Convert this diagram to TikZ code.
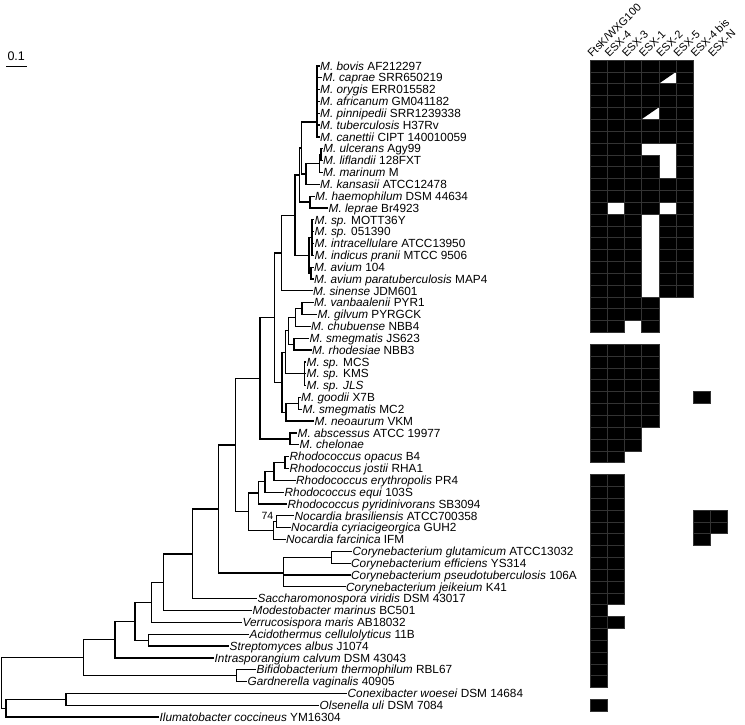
\documentclass[tikz,border=0pt]{standalone}
\usepackage{fontspec}
\setmainfont{Liberation Sans}
\newcommand\leafnode[4]{\coordinate (#1) at (#2,{65.9+(#3-1)*11.84}); \node[lab] (#1-t) at ([xshift=1pt,yshift=-4.2pt]#1) {#4};}
\newcommand\branches[2]{\foreach \ch in {#2} {\draw[br] (#1) |- (\ch);}}
\newcommand\cellrow[2]{\foreach \cc in {#2} {\path[cellst] ({590+(\cc-1)*17.2},{60+(#1-1)*11.84}) rectangle ++(17.2,11.84);}}
\newcommand\halfcell[2]{\fill[black] ({590+(#1-1)*17.2},{60+(#2-1)*11.84}) -- ++(17.2,0) -- ++(-17.2,11.84) -- cycle;
  \draw[gridl] ({590+(#1-1)*17.2},{60+(#2)*11.84}) -- ++(0,-11.84) -- ++(17.2,0);}
\begin{document}
\begin{tikzpicture}[x=1pt,y=-1pt,
  br/.style={line width=1.25pt, line cap=rect},
  lab/.style={anchor=base west, inner sep=0pt, font=\fontsize{11.8}{12}\selectfont},
  hdr/.style={anchor=base west, inner sep=0pt, rotate=45, font=\fontsize{11}{12}\selectfont},
  cellst/.style={fill=black, draw=gray!40!black, line width=0.4pt},
  gridl/.style={draw=gray!40!black, line width=0.4pt}]
\useasboundingbox (0,0) rectangle (745,724);
\fill[white] (0,0) rectangle (745,724);
% scale bar
\coordinate (sbL) at (6,66.7); \coordinate (sbR) at (27,66.7);
\draw[line width=1.2pt] (sbL) -- (sbR);
\node[anchor=base, inner sep=0pt, font=\fontsize{12.5}{13}\selectfont] (sbt) at (16.2,60) {0.1};
% leaves
\leafnode{bov}{319}{1}{\textit{M. bovis} AF212297}
\leafnode{cap}{321.5}{2}{\textit{M. caprae} SRR650219}
\leafnode{ory}{319}{3}{\textit{M. orygis} ERR015582}
\leafnode{afr}{319}{4}{\textit{M. africanum} GM041182}
\leafnode{pin}{319}{5}{\textit{M. pinnipedii} SRR1239338}
\leafnode{tub}{319}{6}{\textit{M. tuberculosis} H37Rv}
\leafnode{can}{319}{7}{\textit{M. canettii} CIPT 140010059}
\leafnode{ulc}{322}{8}{\textit{M. ulcerans} Agy99}
\leafnode{lif}{322}{9}{\textit{M. liflandii} 128FXT}
\leafnode{mar}{322}{10}{\textit{M. marinum} M}
\leafnode{kan}{319}{11}{\textit{M. kansasii} ATCC12478}
\leafnode{hae}{314}{12}{\textit{M. haemophilum} DSM 44634}
\leafnode{lep}{327.5}{13}{\textit{M. leprae} Br4923}
\leafnode{mot}{313.5}{14}{\textit{M. sp.} MOTT36Y}
\leafnode{sfz}{313.5}{15}{\textit{M. sp.} 051390}
\leafnode{inc}{313.5}{16}{\textit{M. intracellulare} ATCC13950}
\leafnode{ind}{313.5}{17}{\textit{M. indicus pranii} MTCC 9506}
\leafnode{avo}{313}{18}{\textit{M. avium} 104}
\leafnode{avp}{313}{19}{\textit{M. avium paratuberculosis} MAP4}
\leafnode{sin}{312}{20}{\textit{M. sinense} JDM601}
\leafnode{van}{313}{21}{\textit{M. vanbaalenii} PYR1}
\leafnode{gil}{316.5}{22}{\textit{M. gilvum} PYRGCK}
\leafnode{chu}{310}{23}{\textit{M. chubuense} NBB4}
\leafnode{jsx}{308.5}{24}{\textit{M. smegmatis} JS623}
\leafnode{rho}{311}{25}{\textit{M. rhodesiae} NBB3}
\leafnode{mcs}{305.5}{26}{\textit{M. sp.} MCS}
\leafnode{kms}{305.5}{27}{\textit{M. sp.} KMS}
\leafnode{jls}{305.5}{28}{\textit{M. sp. JLS}}
\leafnode{goo}{300}{29}{\textit{M. goodii} X7B}
\leafnode{mct}{301.5}{30}{\textit{M. smegmatis} MC2}
\leafnode{neo}{313.5}{31}{\textit{M. neoaurum} VKM}
\leafnode{abs}{296.5}{32}{\textit{M. abscessus} ATCC 19977}
\leafnode{che}{298.5}{33}{\textit{M. chelonae}}
\leafnode{opa}{288.5}{34}{\textit{Rhodococcus opacus} B4}
\leafnode{jos}{288.5}{35}{\textit{Rhodococcus jostii} RHA1}
\leafnode{ery}{295}{36}{\textit{Rhodococcus erythropolis} PR4}
\leafnode{equ}{283.5}{37}{\textit{Rhodococcus equi} 103S}
\leafnode{pyr}{286.5}{38}{\textit{Rhodococcus pyridinivorans} SB3094}
\leafnode{bra}{293.5}{39}{\textit{Nocardia brasiliensis} ATCC700358}
\leafnode{cyr}{290}{40}{\textit{Nocardia cyriacigeorgica} GUH2}
\leafnode{far}{285}{41}{\textit{Nocardia farcinica} IFM}
\leafnode{glu}{351.5}{42}{\textit{Corynebacterium glutamicum} ATCC13032}
\leafnode{eff}{350}{43}{\textit{Corynebacterium efficiens} YS314}
\leafnode{pse}{350}{44}{\textit{Corynebacterium pseudotuberculosis} 106A}
\leafnode{jei}{345}{45}{\textit{Corynebacterium jeikeium} K41}
\leafnode{sac}{256.5}{46}{\textit{Saccharomonospora viridis} DSM 43017}
\leafnode{mod}{251.5}{47}{\textit{Modestobacter marinus} BC501}
\leafnode{ver}{241.5}{48}{\textit{Verrucosispora maris} AB18032}
\leafnode{aci}{248.5}{49}{\textit{Acidothermus cellulolyticus} 11B}
\leafnode{str}{228.5}{50}{\textit{Streptomyces albus} J1074}
\leafnode{itr}{213.5}{51}{\textit{Intrasporangium calvum} DSM 43043}
\leafnode{bif}{255.5}{52}{\textit{Bifidobacterium thermophilum} RBL67}
\leafnode{gar}{246.5}{53}{\textit{Gardnerella vaginalis} 40905}
\leafnode{con}{346.5}{54}{\textit{Conexibacter woesei} DSM 14684}
\leafnode{ols}{318.5}{55}{\textit{Olsenella uli} DSM 7084}
\leafnode{ilu}{158.5}{56}{\textit{Ilumatobacter coccineus} YM16304}
% internal nodes
\coordinate (mtbc) at (317,122);
\coordinate (ul) at (321,154.7);
\coordinate (ulcn) at (319.5,163.6);
\coordinate (nA) at (306,174);
\coordinate (nB) at (301.7,148);
\coordinate (hl) at (310,202);
\coordinate (nU) at (299.3,175);
\coordinate (gone) at (312,237.6);
\coordinate (av) at (311,273.1);
\coordinate (mac) at (309,255.3);
\coordinate (nT) at (295,215.2);
\coordinate (nS) at (281.7,253);
\coordinate (vg) at (302,308.6);
\coordinate (vgc) at (295.3,317.5);
\coordinate (jr) at (294,344.2);
\coordinate (rg) at (288.7,330.8);
\coordinate (spn) at (304.5,373.7);
\coordinate (qone) at (285.3,352.3);
\coordinate (gm) at (298.7,403.3);
\coordinate (qtwo) at (286,412.2);
\coordinate (nP) at (282,382.3);
\coordinate (MA) at (274.7,317.7);
\coordinate (ac) at (290,438.9);
\coordinate (MY) at (260,378.3);
\coordinate (Rone) at (285,462.5);
\coordinate (Rtwo) at (274,471.4);
\coordinate (Rthr) at (265,481.8);
\coordinate (Rfou) at (258.3,492.9);
\coordinate (Nb) at (276.7,521.7);
\coordinate (Nn) at (273.3,530.6);
\coordinate (Rfiv) at (248.3,511.8);
\coordinate (RN) at (235.5,445);
\coordinate (ge) at (331.7,557.3);
\coordinate (cor) at (283.3,573);
\coordinate (nK) at (218.3,509);
\coordinate (nL) at (192.3,553.9);
\coordinate (nM) at (163.3,582.2);
\coordinate (Ntwo) at (151.7,602.3);
\coordinate (SA) at (148.3,640.2);
\coordinate (nO) at (135,621.2);
\coordinate (Pn) at (115,639.6);
\coordinate (BG) at (236.7,675.7);
\coordinate (nQ) at (83.3,657.6);
\coordinate (CO) at (66,699.4);
\coordinate (Rlow) at (6,708.3);
\coordinate (root) at (1.7,683);
\branches{mtbc}{bov,cap,ory,afr,pin,tub,can}
\branches{ul}{ulc,lif}
\branches{ulcn}{ul,mar}
\branches{nA}{ulcn,kan}
\branches{nB}{mtbc,nA}
\branches{hl}{hae,lep}
\branches{nU}{nB,hl}
\branches{gone}{mot,sfz,inc,ind}
\branches{av}{avo,avp}
\branches{mac}{gone,av}
\branches{nT}{nU,mac}
\branches{nS}{nT,sin}
\branches{vg}{van,gil}
\branches{vgc}{vg,chu}
\branches{jr}{jsx,rho}
\branches{rg}{vgc,jr}
\branches{spn}{mcs,kms,jls}
\branches{qone}{rg,spn}
\branches{gm}{goo,mct}
\branches{qtwo}{gm,neo}
\branches{nP}{qone,qtwo}
\branches{MA}{nS,nP}
\branches{ac}{abs,che}
\branches{MY}{MA,ac}
\branches{Rone}{opa,jos}
\branches{Rtwo}{Rone,ery}
\branches{Rthr}{Rtwo,equ}
\branches{Rfou}{Rthr,pyr}
\branches{Nb}{bra,cyr}
\branches{Nn}{Nb,far}
\branches{Rfiv}{Rfou,Nn}
\branches{RN}{MY,Rfiv}
\branches{ge}{glu,eff}
\branches{cor}{ge,pse,jei}
\branches{nK}{RN,cor}
\branches{nL}{nK,sac}
\branches{nM}{nL,mod}
\branches{Ntwo}{nM,ver}
\branches{SA}{aci,str}
\branches{nO}{Ntwo,SA}
\branches{Pn}{nO,itr}
\branches{BG}{bif,gar}
\branches{nQ}{Pn,BG}
\branches{CO}{con,ols}
\branches{Rlow}{CO,ilu}
\branches{root}{nQ,Rlow}
\node[anchor=base east, inner sep=0pt, font=\fontsize{10.5}{11}\selectfont] (bs) at (273.5,519.5) {74};
% headers
\node[hdr] (h1) at (592,58) {FtsK/WXG100};
\node[hdr] (h2) at (609.2,58) {ESX-4};
\node[hdr] (h3) at (626.4,58) {ESX-3};
\node[hdr] (h4) at (643.6,58) {ESX-1};
\node[hdr] (h5) at (660.8,58) {ESX-2};
\node[hdr] (h6) at (678,58) {ESX-5};
\node[hdr] (h7) at (695.2,58) {ESX-4 bis};
\node[hdr] (h8) at (712.4,58) {ESX-N};
% presence grid
\foreach \rr in {1,3,4,6,7,11,12} {\cellrow{\rr}{1,2,3,4,5,6}}
\cellrow{2}{1,2,3,4,6} \halfcell{5}{2}
\cellrow{5}{1,2,3,5,6} \halfcell{4}{5}
\cellrow{8}{1,2,3,6}
\cellrow{9}{1,2,3,4,6}
\cellrow{10}{1,2,3,4,6}
\cellrow{13}{1,3,4,6}
\foreach \rr in {14,...,20} {\cellrow{\rr}{1,2,3,5,6}}
\cellrow{21}{1,2,3,4}
\cellrow{22}{1,2,3,4}
\cellrow{23}{1,2,4}
\foreach \rr in {25,...,31} {\cellrow{\rr}{1,2,3,4}}
\cellrow{29}{7}
\cellrow{32}{1,2,3}
\cellrow{33}{1,2,3}
\cellrow{34}{1,2}
\foreach \rr in {36,...,46} {\cellrow{\rr}{1,2}}
\cellrow{39}{7,8}
\cellrow{40}{7,8}
\cellrow{41}{7}
\cellrow{47}{1}
\cellrow{48}{1,2}
\foreach \rr in {49,...,53} {\cellrow{\rr}{1}}
\cellrow{55}{1}
\end{tikzpicture}
\end{document}
